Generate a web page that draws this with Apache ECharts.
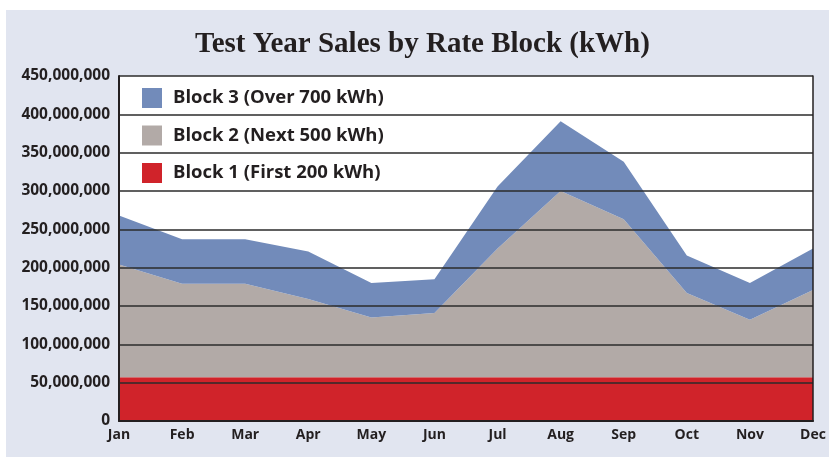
<!DOCTYPE html>
<html>
<head>
<meta charset="utf-8">
<script src="https://cdn.jsdelivr.net/npm/echarts@6/dist/echarts.min.js"></script>
<style>
  html, body { margin: 0; padding: 0; background: #ffffff; }
  #bg { position: absolute; left: 6px; top: 10px; width: 823px; height: 447px; background: #e1e5f0; }
  #chart { position: absolute; left: 0; top: 0; width: 829px; height: 459px; }
</style>
</head>
<body>
<div id="bg"></div>
<div id="chart"></div>
<script>
// months on the x axis
var months = ["Jan", "Feb", "Mar", "Apr", "May", "Jun", "Jul", "Aug", "Sep", "Oct", "Nov", "Dec"];
// kWh per block
var block1 = [57e6, 57e6, 57e6, 57e6, 57e6, 57e6, 57e6, 57e6, 57e6, 57e6, 57e6, 57e6];
var block2 = [147e6, 122e6, 122e6, 102e6, 78e6, 84e6, 168e6, 243e6, 206e6, 110e6, 75e6, 114e6];
var block3 = [64e6, 58e6, 58e6, 62e6, 45e6, 44e6, 81e6, 91e6, 75e6, 49e6, 48e6, 54e6];
var seriesNames = ["Block 1 (First 200 kWh)", "Block 2 (Next 500 kWh)", "Block 3 (Over 700 kWh)"];
var seriesColors = ["#d0232a", "#b2aaa7", "#728bba"];

var chart = echarts.init(document.getElementById("chart"));

function makeSeries(i, data) {
  return {
    name: seriesNames[i],
    type: "line",
    stack: "total",
    data: data,
    symbol: "none",
    z: 2,
    lineStyle: { width: 0, color: seriesColors[i] },
    itemStyle: { color: seriesColors[i] },
    areaStyle: { color: seriesColors[i], opacity: 1 }
  };
}

var option = {
  backgroundColor: "transparent",
  animation: false,
  title: {
    text: "Test Year Sales by Rate Block (kWh)",
    left: 195,
    top: 30,
    padding: 0,
    textStyle: {
      fontFamily: "Liberation Serif",
      fontWeight: "bold",
      fontSize: 29,
      color: "#231f20"
    }
  },
  legend: {
    data: [seriesNames[2], seriesNames[1], seriesNames[0]],
    orient: "vertical",
    left: 142,
    top: 88,
    padding: 0,
    icon: "rect",
    itemWidth: 20,
    itemHeight: 20,
    itemGap: 17.5,
    itemStyle: { borderWidth: 0 },
    textStyle: {
      fontFamily: "Open Sans",
      fontWeight: "bold",
      fontSize: 18.5,
      lineHeight: 20,
      color: "#231f20",
      padding: [0, 0, 0, 6]
    }
  },
  grid: {
    left: 119,
    right: 16,
    top: 76,
    bottom: 38,
    show: true,
    backgroundColor: "#ffffff",
    borderWidth: 0
  },
  xAxis: {
    type: "category",
    data: months,
    boundaryGap: false,
    z: 10,
    axisLine: { show: true, lineStyle: { color: "#231f20", width: 2 } },
    axisTick: { show: false },
    axisLabel: {
      margin: 7,
      fontFamily: "Open Sans",
      fontWeight: "bold",
      fontSize: 14,
      color: "#231f20"
    },
    splitLine: { show: false }
  },
  yAxis: [
    {
      type: "value",
      min: 0,
      max: 450000000,
      interval: 50000000,
      z: 10,
      axisLine: { show: true, lineStyle: { color: "#231f20", width: 2 } },
      axisTick: { show: false },
      axisLabel: {
        margin: 9,
        fontFamily: "Open Sans",
        fontWeight: "bold",
        fontSize: 15.5,
        color: "#231f20",
        formatter: function (v) { return v.toLocaleString("en-US"); }
      },
      splitLine: { show: true, lineStyle: { color: "#2b2b2b", width: 1.5 } }
    },
    {
      type: "value",
      position: "right",
      min: 0,
      max: 450000000,
      interval: 50000000,
      z: 10,
      axisLine: { show: true, lineStyle: { color: "#231f20", width: 1.5 } },
      axisTick: { show: false },
      axisLabel: { show: false },
      splitLine: { show: false }
    }
  ],
  series: [
    makeSeries(0, block1),
    makeSeries(1, block2),
    makeSeries(2, block3)
  ]
};

chart.setOption(option);
</script>
</body>
</html>
